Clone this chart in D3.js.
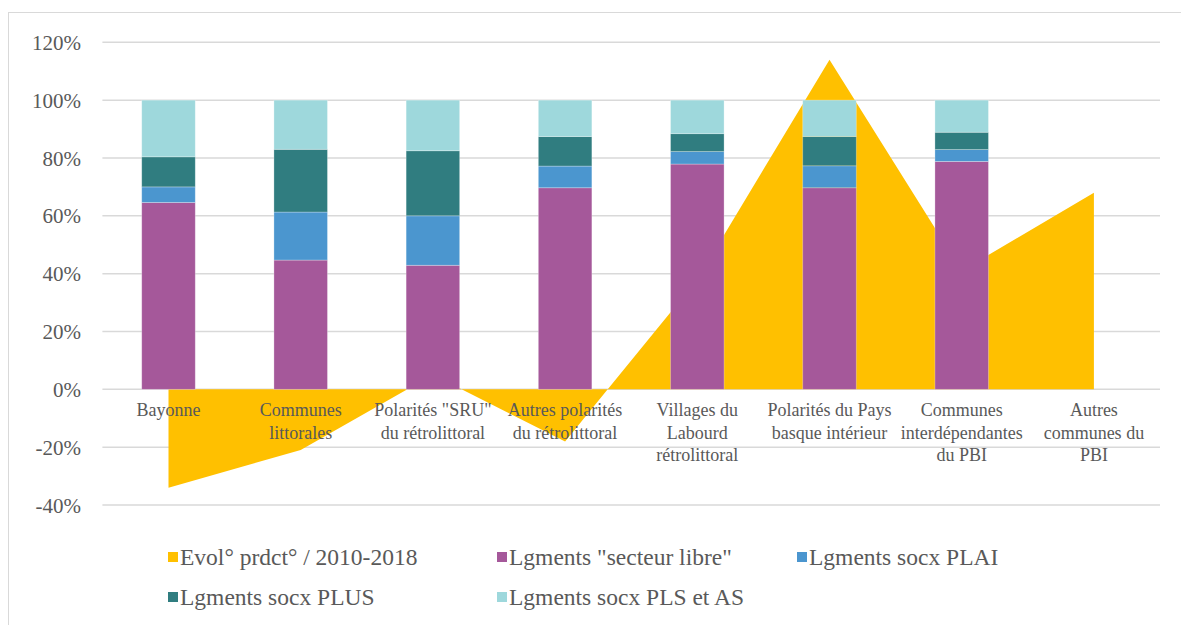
<!DOCTYPE html>
<html><head><meta charset="utf-8">
<script src="https://cdn.jsdelivr.net/npm/d3@7"></script>
<style>body{margin:0;background:#fff}svg{display:block}svg text{font-family:"Liberation Serif","Times New Roman",serif !important;fill:#595959}</style>
</head><body><svg id="c" width="1181" height="625"></svg>
<script>
const categories = [["Bayonne"],["Communes","littorales"],["Polarités \"SRU\"","du rétrolittoral"],["Autres polarités","du rétrolittoral"],["Villages du","Labourd","rétrolittoral"],["Polarités du Pays","basque intérieur"],["Communes","interdépendantes","du PBI"],["Autres","communes du","PBI"]];
const evol   = [-0.34, -0.21, 0.05, -0.18, 0.38, 1.14, 0.41, 0.68];
const libre  = [0.646, 0.447, 0.429, 0.697, 0.779, 0.697, 0.788, null];
const plai   = [0.054, 0.166, 0.171, 0.075, 0.043, 0.076, 0.041, null];
const plus   = [0.104, 0.217, 0.225, 0.102, 0.062, 0.101, 0.060, null];
const pls    = [0.196, 0.170, 0.175, 0.126, 0.116, 0.126, 0.111, null];
const yTicks = [-0.4,-0.2,0,0.2,0.4,0.6,0.8,1.0,1.2];
const seriesNames = ["Evol° prdct° / 2010-2018","Lgments \"secteur libre\"","Lgments socx PLAI","Lgments socx PLUS","Lgments socx PLS et AS"];
const colors = ["#FFC000","#A5589A","#4B96CF","#307D80","#9ED8DC"];

const svg = d3.select("#c");
svg.append("rect").attr("x",8.5).attr("y",12.5).attr("width",1300).attr("height",700).attr("fill","none").attr("stroke","#d9d9d9").attr("stroke-width",1);

const x = d3.scaleBand().domain(d3.range(categories.length)).range([102.4,1160]).paddingInner(0.595).paddingOuter(0.2975);
const y = d3.scaleLinear().domain([-0.4,1.2]).range([505,42.3]);
const cx = i => x(i)+x.bandwidth()/2;

// grid
svg.append("g").selectAll("line").data(yTicks).join("line")
  .attr("x1",102.4).attr("x2",1160).attr("y1",d=>y(d)).attr("y2",d=>y(d))
  .attr("stroke","#d9d9d9").attr("stroke-width",1.5);

// y axis labels
const yAxis = d3.axisLeft(y).tickValues(yTicks).tickFormat(d=>Math.round(d*100)+"%").tickSize(0).tickPadding(0);
const ya = svg.append("g").attr("transform","translate(81,0)").call(yAxis);
ya.attr("font-family","Liberation Serif").attr("font-size",21);
ya.select(".domain").remove();
ya.selectAll("text").attr("fill","#595959").attr("dy","0.34em");

// area
const area = d3.area().x((d,i)=>cx(i)).y0(y(0)).y1(d=>y(d));
svg.append("path").datum(evol).attr("d",area).attr("fill",colors[0]);

// stacked bars
const rows = categories.map((c,i)=>({i, libre:libre[i]||0, plai:plai[i]||0, plus:plus[i]||0, pls:pls[i]||0}));
const keys = ["libre","plai","plus","pls"];
const stack = d3.stack().keys(keys)(rows);
stack.forEach((s,k)=>{
  svg.append("g").selectAll("rect").data(s.filter(d=>d[1]-d[0]>0)).join("rect")
    .attr("x",d=>x(d.data.i)).attr("width",x.bandwidth())
    .attr("y",d=>y(d[1])).attr("height",d=>y(d[0])-y(d[1]))
    .attr("fill",colors[k+1]).attr("stroke","#ffffff").attr("stroke-opacity",0.35).attr("stroke-width",0.8);
});

// x labels
const xl = svg.append("g");
categories.forEach((lines,i)=>{
  const t = xl.append("text").attr("text-anchor","middle").style("font-size","18px");
  lines.forEach((l,j)=>t.append("tspan").attr("x",cx(i)).attr("y",416+j*22.5).text(l));
});

// legend
const legPos = [[168,557],[497,557],[797,557],[168,597],[497,597]];
const lg = svg.append("g");
seriesNames.forEach((n,k)=>{
  const [lx,ly]=legPos[k];
  lg.append("rect").attr("x",lx).attr("y",ly-5).attr("width",10).attr("height",10).attr("fill",colors[k]);
  lg.append("text").attr("x",lx+12).attr("y",ly).attr("dy","0.34em").style("font-size","23.5px").text(n);
});
</script></body></html>
